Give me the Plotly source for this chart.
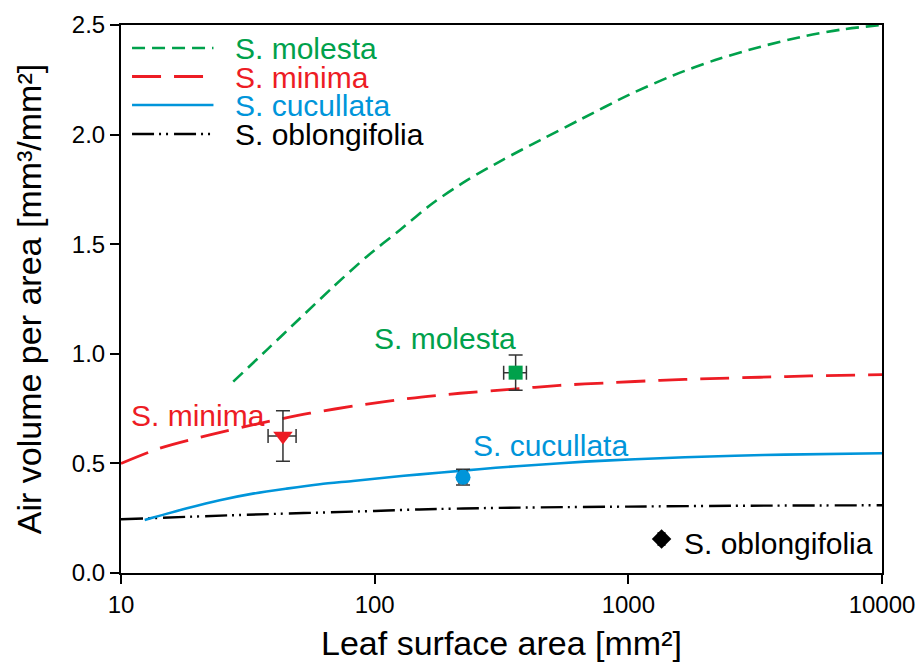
import plotly.graph_objects as go

# ---- fitted curves ----
molesta_x = [27.7, 37.5, 50.8, 68.7, 93, 125.8, 169.8, 230, 320, 450, 650, 1000, 1500, 2200, 3300, 5000, 7000, 10000]
molesta_y = [0.873, 1.017, 1.162, 1.306, 1.443, 1.565, 1.688, 1.79, 1.885, 1.975, 2.07, 2.18, 2.27, 2.34, 2.40, 2.45, 2.48, 2.50]

minima_x = [10, 14.2, 22.4, 35.3, 55.6, 87.5, 137.7, 217, 341, 537, 845, 1333, 2092, 3300, 5200, 10000]
minima_y = [0.500, 0.569, 0.630, 0.683, 0.729, 0.766, 0.797, 0.820, 0.838, 0.856, 0.868, 0.879, 0.887, 0.893, 0.899, 0.905]

cucullata_x = [12.4, 18.2, 24.5, 33.1, 45.0, 60.8, 82.1, 111.5, 150.9, 223, 300, 429, 675, 1062, 1672, 2630, 4140, 10000]
cucullata_y = [0.242, 0.295, 0.332, 0.362, 0.385, 0.405, 0.420, 0.436, 0.450, 0.467, 0.480, 0.493, 0.508, 0.519, 0.528, 0.535, 0.540, 0.546]

oblong_x = [10, 30, 100, 150, 300, 1000, 3000, 10000]
oblong_y = [0.245, 0.265, 0.283, 0.290, 0.297, 0.303, 0.307, 0.309]

# ---- measured points ----
pt_species = ["S. minima", "S. molesta", "S. cucullata", "S. oblongifolia"]
pt_x = [43.5, 359.5, 223, 1352]
pt_y = [0.625, 0.914, 0.437, 0.155]
pt_xerr = [5.5, 37, 8, 40]
pt_yerr = [0.115, 0.08, 0.036, 0.0]

x_tickvals = [10, 100, 1000, 10000]
x_ticktext = ["10", "100", "1000", "10000"]
y_tickvals = [0.0, 0.5, 1.0, 1.5, 2.0, 2.5]
y_ticktext = ["0.0", "0.5", "1.0", "1.5", "2.0", "2.5"]

GREEN = "#00A14B"
RED = "#ED1C24"
BLUE = "#0095DA"
BLACK = "#000000"
ERR = "#333333"
FONT = "Arial, Liberation Sans, sans-serif"

species_style = {
    "S. molesta": dict(color=GREEN, dash="13px,7px", width=2.6, symbol="square", size=14),
    "S. minima": dict(color=RED, dash="29px,13px", width=2.8, symbol="triangle-down", size=17),
    "S. cucullata": dict(color=BLUE, dash="solid", width=2.6, symbol="circle", size=15),
    "S. oblongifolia": dict(color=BLACK, dash="22px,5px,2px,5px,2px,6px", width=2.4, symbol="diamond", size=15),
}
curves = {
    "S. molesta": (molesta_x, molesta_y),
    "S. minima": (minima_x, minima_y),
    "S. cucullata": (cucullata_x, cucullata_y),
    "S. oblongifolia": (oblong_x, oblong_y),
}

fig = go.Figure()

for name in ["S. oblongifolia", "S. cucullata", "S. minima", "S. molesta"]:
    st = species_style[name]
    cx, cy = curves[name]
    fig.add_trace(go.Scatter(
        x=cx, y=cy, mode="lines", name=name, showlegend=False,
        line=dict(color=st["color"], dash=st["dash"], width=st["width"], shape="spline", smoothing=0.8),
    ))

for i, name in enumerate(pt_species):
    st = species_style[name]
    fig.add_trace(go.Scatter(
        x=[pt_x[i]], y=[pt_y[i]], mode="markers", showlegend=False,
        marker=dict(symbol=st["symbol"], size=st["size"], color=st["color"], line=dict(width=0)),
        error_x=dict(type="data", array=[pt_xerr[i]], color=ERR, thickness=1.5, width=7),
        error_y=dict(type="data", array=[pt_yerr[i]], color=ERR, thickness=1.5, width=7,
                     visible=pt_yerr[i] > 0),
    ))

# ---- hand-made legend: sample lines + one multi-line coloured text block ----
legend_order = ["S. molesta", "S. minima", "S. cucullata", "S. oblongifolia"]
legend_rows_y = [0.958, 0.906, 0.854, 0.801]
shapes = []
annotations = []
for name, ly in zip(legend_order, legend_rows_y):
    st = species_style[name]
    shapes.append(dict(type="line", xref="paper", yref="paper", x0=0.0145, x1=0.1215, y0=ly, y1=ly,
                       line=dict(color=st["color"], width=st["width"], dash=st["dash"])))
legend_text = "<br>".join(
    f'<span style="font-size:30px;color:{species_style[n]["color"]}">{n}</span>' for n in legend_order
)
annotations.append(dict(xref="paper", yref="paper", x=0.147, y=0.8795, text=legend_text, showarrow=False,
                        xanchor="left", yanchor="middle", align="left",
                        font=dict(family=FONT, size=22, color="black")))

# ---- point labels ----
label_pos = {
    "S. molesta": (0.4258, 0.4288),
    "S. minima": (0.1012, 0.2883),
    "S. cucullata": (0.565, 0.2318),
    "S. oblongifolia": (0.864, 0.0547),
}
for name in pt_species:
    lx, ly = label_pos[name]
    annotations.append(dict(xref="paper", yref="paper", x=lx, y=ly, text=name, showarrow=False,
                            xanchor="center", yanchor="middle",
                            font=dict(family=FONT, size=30, color=species_style[name]["color"])))

fig.update_layout(
    width=916, height=664,
    margin=dict(l=121, r=34, t=25, b=91),
    paper_bgcolor="white", plot_bgcolor="white",
    font=dict(family=FONT, color="black"),
    shapes=shapes, annotations=annotations,
    showlegend=False,
)
fig.update_xaxes(
    type="log", range=[1, 4], tickvals=x_tickvals, ticktext=x_ticktext, automargin=False,
    showgrid=False, zeroline=False, showline=True, linecolor="black", linewidth=2, mirror=True,
    ticks="outside", ticklen=9, tickwidth=1.5, tickcolor="black",
    tickfont=dict(family=FONT, size=24, color="black"),
    title=dict(text="Leaf surface area [mm²]", font=dict(family=FONT, size=34, color="black"), standoff=14),
)
fig.update_yaxes(
    range=[0, 2.5], tickvals=y_tickvals, ticktext=y_ticktext, automargin=False,
    showgrid=False, zeroline=False, showline=True, linecolor="black", linewidth=2, mirror=True,
    ticks="outside", ticklen=9, tickwidth=1.5, tickcolor="black",
    tickfont=dict(family=FONT, size=24, color="black"),
    title=dict(text="Air volume per area [mm³/mm²]", font=dict(family=FONT, size=34, color="black"), standoff=20),
)

fig.write_html("out.html")
